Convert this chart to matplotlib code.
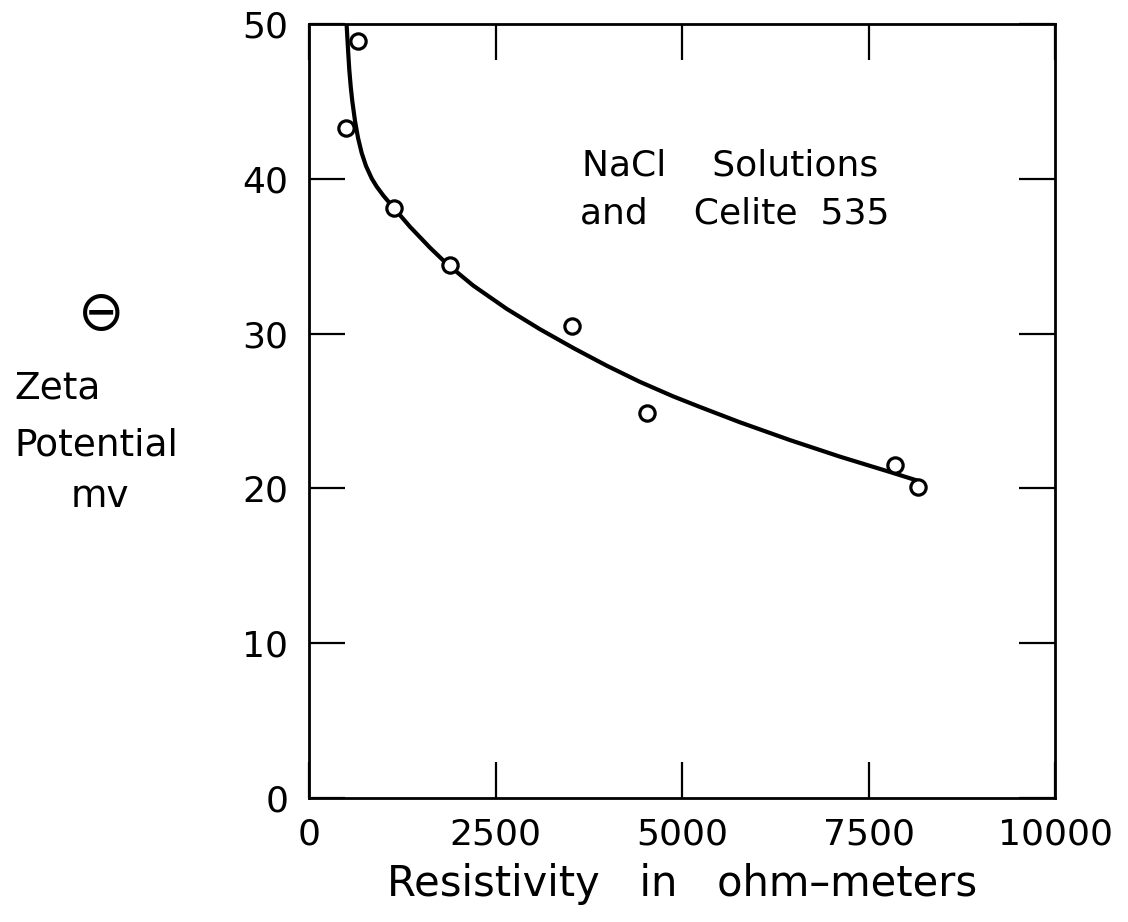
import matplotlib
matplotlib.use("Agg")
import matplotlib.pyplot as plt

# Measured zeta potentials (mv) against resistivity (ohm-m)
resistivity = [496, 660, 1140, 1890, 3525, 4530, 7855, 8160]
zeta = [43.3, 48.9, 38.1, 34.4, 30.5, 24.9, 21.5, 20.1]

# Hand-faired trend curve
curve_x = [505, 513, 527, 540, 559, 580, 617, 657, 706, 764, 840, 907, 996,
           1130, 1354, 1622, 1845, 2202, 2650, 3097, 3543, 3990, 4437, 4884,
           5241, 5777, 6448, 7118, 7788, 8190]
curve_y = [49.9, 49.2, 48.05, 47.05, 45.97, 45.03, 43.73, 42.65, 41.67,
           40.83, 40.03, 39.5, 38.92, 38.16, 36.9, 35.55, 34.52, 33.1, 31.6,
           30.28, 29.07, 27.93, 26.88, 25.94, 25.26, 24.27, 23.12, 22.05,
           21.06, 20.45]

x_ticks = [0, 2500, 5000, 7500, 10000]
y_ticks = [0, 10, 20, 30, 40, 50]

W, H = 1128, 922
fig = plt.figure(figsize=(W / 100, H / 100), dpi=100)
plt.rcParams["font.family"] = ["DejaVu Sans"]

ax = fig.add_axes([309 / W, 1 - 798 / H, (1055 - 309) / W, (798 - 24) / H])
ax.plot(curve_x, curve_y, color="black", lw=3.0, solid_capstyle="round",
        solid_joinstyle="round", zorder=2)
ax.plot(resistivity, zeta, linestyle="none", marker="o", markersize=11,
        markerfacecolor="white", markeredgecolor="black", markeredgewidth=2.3,
        zorder=3)

ax.set_xlim(0, 10000)
ax.set_ylim(0, 50)
ax.set_xticks(x_ticks)
ax.set_yticks(y_ticks)
ax.set_xticklabels([str(v) for v in x_ticks])
ax.set_yticklabels([str(v) for v in y_ticks])
ax.tick_params(direction="in", length=26, width=1.6, top=True, right=True,
               labelsize=26, color="black")
ax.tick_params(axis="x", pad=14)
ax.tick_params(axis="y", pad=15)
for sp in ax.spines.values():
    sp.set_linewidth(2.0)

ax.set_xlabel("Resistivity   in   ohm\u2013meters", fontsize=30, labelpad=8)

def fig_xy(px, py):
    return px / W, 1 - py / H

# Annotation inside the plot
fig.text(*fig_xy(582, 176), "NaCl    Solutions", fontsize=26,
         ha="left", va="baseline")
fig.text(*fig_xy(580, 224), "and    Celite  535", fontsize=26,
         ha="left", va="baseline")

# Stacked y-axis caption
fig.text(*fig_xy(101, 315), "\u2296", fontsize=40, ha="center", va="center")
fig.text(*fig_xy(14, 388), "Zeta", fontsize=27, ha="left", va="center")
fig.text(*fig_xy(14, 445), "Potential", fontsize=27, ha="left", va="center")
fig.text(*fig_xy(100, 497), "mv", fontsize=27, ha="center", va="center")

fig.savefig("out.png", dpi=100, facecolor="white")
